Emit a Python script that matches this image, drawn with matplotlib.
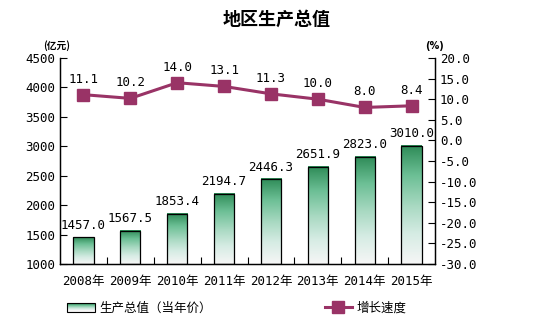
import numpy as np
import matplotlib
matplotlib.use("Agg")
import matplotlib.pyplot as plt
from matplotlib.colors import LinearSegmentedColormap
from matplotlib.patches import Rectangle
from matplotlib.lines import Line2D
from matplotlib.legend_handler import HandlerBase

plt.rcParams['font.family'] = ['DejaVu Sans Mono', 'Noto Sans CJK SC']
plt.rcParams['axes.unicode_minus'] = False

years = ['2008年', '2009年', '2010年', '2011年', '2012年', '2013年', '2014年', '2015年']
gdp = [1457.0, 1567.5, 1853.4, 2194.7, 2446.3, 2651.9, 2823.0, 3010.0]
growth = [11.1, 10.2, 14.0, 13.1, 11.3, 10.0, 8.0, 8.4]

LINE_COLOR = '#993366'
green_cmap = LinearSegmentedColormap.from_list(
    'bar_green', ['#f6f6f6', '#d6ece4', '#a6d8c0', '#6cbf95', '#2e8b57'])
gradient = np.linspace(0, 1, 128).reshape(-1, 1)


class GradientHandler(HandlerBase):
    # legend key drawn as stacked strips, dark at the top
    def create_artists(self, legend, orig, xd, yd, width, height, fontsize, trans):
        n = 8
        arts = []
        for i in range(n):
            c = green_cmap(i / (n - 1))
            arts.append(Rectangle((xd, yd + height * i / n), width, height / n,
                                  facecolor=c, edgecolor='none', transform=trans))
        arts.append(Rectangle((xd, yd), width, height, facecolor='none',
                              edgecolor='black', lw=0.8, transform=trans))
        return arts


fig = plt.figure(figsize=(5.53, 3.27), dpi=100)
ax = fig.add_axes([60 / 553, 63 / 327, 375 / 553, 206 / 327])
ax2 = ax.twinx()

x = np.arange(len(years))
bw = 0.43
for xi, v in zip(x, gdp):
    ax.imshow(gradient, cmap=green_cmap, origin='lower', aspect='auto',
              extent=[xi - bw / 2, xi + bw / 2, 1000, v], zorder=2)
    ax.add_patch(Rectangle((xi - bw / 2, 1000), bw, v - 1000, facecolor='none',
                           edgecolor='black', lw=0.9, zorder=3))
    ax.text(xi, v + 90, f'{v:.1f}', ha='center', va='bottom', fontsize=9)
ax.set_xlim(-0.5, len(years) - 0.5)
ax.set_ylim(1000, 4500)
ax.set_yticks(np.arange(1000, 4501, 500))

ax2.plot(x, growth, color=LINE_COLOR, lw=2.2, marker='s', markersize=9,
         zorder=4)
for xi, v in zip(x, growth):
    ax2.text(xi, v + 2.2, f'{v:.1f}', ha='center', va='bottom', fontsize=9)
ax2.set_ylim(-30, 20)
ax2.set_yticks(np.arange(-30, 21, 5))
ax2.set_yticklabels([f'{t:.1f}' for t in np.arange(-30, 21, 5)])

ax.set_xticks(x)
ax.set_xticklabels(years)
ax.set_xticks(np.arange(0.5, len(years) - 0.5, 1), minor=True)
ax.tick_params(axis='x', which='major', length=0, labelsize=9, pad=8)
ax.tick_params(axis='x', which='minor', direction='in', length=5, width=0.8)
ax.tick_params(axis='y', direction='in', length=5, width=0.8, labelsize=9)
ax2.tick_params(axis='y', direction='in', length=5, width=0.8, labelsize=9)

for a in (ax, ax2):
    a.spines['top'].set_visible(False)
    for s in ('left', 'right', 'bottom'):
        a.spines[s].set_linewidth(0.9)

fig.text(0.5, 0.94, '地区生产总值', ha='center', va='center',
         fontsize=13, fontweight='bold', family=['Noto Sans CJK SC'])
fig.text(43 / 553, 1 - 46 / 327, '(亿元)', ha='left', va='center',
         fontsize=7, fontweight='bold', family=['Noto Sans CJK SC'])
fig.text(425 / 553, 1 - 46 / 327, '(%)', ha='left', va='center',
         fontsize=7, fontweight='bold', family=['DejaVu Sans'])

bar_key = Rectangle((0, 0), 1, 1)
line_key = Line2D([], [], color=LINE_COLOR, lw=2.2, marker='s', markersize=9)
fig.legend([bar_key, line_key], ['生产总值（当年价）', '增长速度'],
           handler_map={Rectangle: GradientHandler()},
           loc='center', bbox_to_anchor=(237 / 553, 1 - 308 / 327), ncol=2,
           frameon=False, columnspacing=9, handlelength=2.2,
           handletextpad=0.4, prop={'family': ['Noto Sans CJK SC'], 'size': 9})

fig.savefig('out.png', dpi=100)
